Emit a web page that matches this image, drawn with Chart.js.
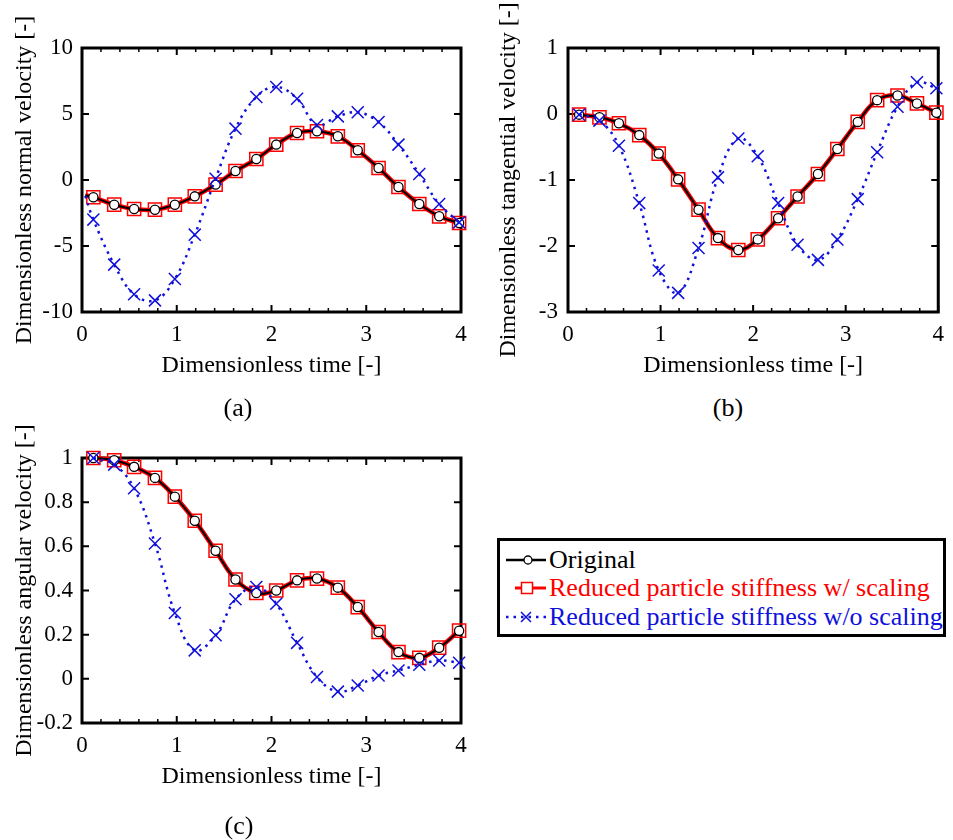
<!DOCTYPE html>
<html>
<head>
<meta charset="utf-8">
<script src="https://cdn.jsdelivr.net/npm/chart.js@4.4.0/dist/chart.umd.min.js"></script>
<style>
body { margin: 0; background: #fff; }
#fig { position: relative; width: 953px; height: 840px; background: #fff; overflow: hidden;
       font-family: "Liberation Serif", serif; color: #000; }
#fig canvas { position: absolute; }
.tag { position: absolute; font-size: 26px; transform: translate(-50%, -50%); white-space: nowrap; }
#legend { position: absolute; left: 497px; top: 538px; width: 443px; height: 93px; border: 3px solid #000; background: #fff; }
#legend .row { position: absolute; left: 0; height: 28px; display: flex; align-items: center; font-size: 26px; white-space: nowrap; }
#legend svg { margin-left: 6px; margin-right: 3px; }
</style>
</head>
<body>
<div id="fig">
  <canvas id="chartA" width="480" height="390" style="left:0;top:0"></canvas>
  <canvas id="chartB" width="473" height="390" style="left:480px;top:0"></canvas>
  <canvas id="chartC" width="480" height="420" style="left:0;top:420px"></canvas>
  <div class="tag" style="left:238px;top:408px">(a)</div>
  <div class="tag" style="left:728px;top:408px">(b)</div>
  <div class="tag" style="left:239px;top:826px">(c)</div>
  <div id="legend"></div>
</div>
<script>
// sample times of the markers (same for every panel)
const xTime = [0.12, 0.34, 0.55, 0.77, 0.98, 1.19, 1.41, 1.62, 1.84, 2.05, 2.27, 2.48, 2.70, 2.91, 3.13, 3.34, 3.56, 3.77, 3.98];
// panel (a) curves start a bit before the first marker
const xTimeA = [0.035].concat(xTime);

// (a) dimensionless normal velocity
const normOriginal = [-1.15, -1.31, -1.87, -2.20, -2.25, -1.87, -1.24, -0.35, 0.68, 1.59, 2.68, 3.56, 3.69, 3.31, 2.25, 0.91, -0.53, -1.82, -2.75, -3.26];
const normScaled   = [-1.15, -1.31, -1.87, -2.20, -2.25, -1.87, -1.24, -0.35, 0.68, 1.59, 2.68, 3.56, 3.69, 3.31, 2.25, 0.91, -0.53, -1.82, -2.75, -3.26];
const normUnscaled = [-1.2, -3.0, -6.41, -8.66, -9.12, -7.5, -4.14, 0.1, 3.89, 6.29, 7.05, 6.16, 4.17, 4.82, 5.13, 4.39, 2.68, 0.45, -1.82, -3.21];

// (b) dimensionless tangential velocity
const tangOriginal = [-0.01, -0.05, -0.14, -0.32, -0.60, -0.99, -1.45, -1.88, -2.06, -1.90, -1.58, -1.25, -0.91, -0.53, -0.12, 0.21, 0.28, 0.16, 0.02];
const tangScaled   = [-0.01, -0.05, -0.14, -0.32, -0.60, -0.99, -1.45, -1.88, -2.06, -1.90, -1.58, -1.25, -0.91, -0.53, -0.12, 0.21, 0.28, 0.16, 0.02];
const tangUnscaled = [-0.01, -0.10, -0.48, -1.35, -2.37, -2.71, -2.03, -0.96, -0.37, -0.64, -1.35, -1.98, -2.21, -1.90, -1.29, -0.58, 0.11, 0.48, 0.39];

// (c) dimensionless angular velocity
const angOriginal = [1.0, 0.99, 0.96, 0.91, 0.825, 0.716, 0.58, 0.45, 0.389, 0.40, 0.446, 0.454, 0.413, 0.325, 0.212, 0.121, 0.095, 0.141, 0.218];
const angScaled   = [1.0, 0.99, 0.96, 0.91, 0.825, 0.716, 0.58, 0.45, 0.389, 0.40, 0.446, 0.454, 0.413, 0.325, 0.212, 0.121, 0.095, 0.141, 0.218];
const angUnscaled = [1.0, 0.97, 0.863, 0.613, 0.298, 0.129, 0.197, 0.36, 0.416, 0.34, 0.163, 0.008, -0.058, -0.03, 0.015, 0.038, 0.064, 0.083, 0.073];

const seriesNames = ['Original', 'Reduced particle stiffness w/ scaling', 'Reduced particle stiffness w/o scaling'];
const xTitle = 'Dimensionless time [-]';

const BLACK = '#000000';
const RED = '#ff0000';
const BLUE = '#1010dc';

Chart.defaults.font.family = '"Liberation Serif", serif';
Chart.defaults.color = '#000';

// frame + inward ticks like the original plot
const frameTicks = {
    id: 'frameTicks',
    beforeDatasetsDraw(chart) {
        const {ctx, chartArea: a, scales: {x, y}} = chart;
        ctx.save();
        ctx.strokeStyle = '#000';
        // minor x ticks every 0.2
        ctx.lineWidth = 1.5;
        ctx.beginPath();
        for (let i = 0; i <= 20; i++) {
            if (i % 5 === 0) continue;
            const px = x.getPixelForValue(i * 0.2);
            ctx.moveTo(px, a.bottom); ctx.lineTo(px, a.bottom - 4);
            ctx.moveTo(px, a.top); ctx.lineTo(px, a.top + 4);
        }
        ctx.stroke();
        // major ticks
        ctx.lineWidth = 2;
        ctx.beginPath();
        x.ticks.forEach(t => {
            const px = x.getPixelForValue(t.value);
            ctx.moveTo(px, a.bottom); ctx.lineTo(px, a.bottom - 7);
            ctx.moveTo(px, a.top); ctx.lineTo(px, a.top + 7);
        });
        y.ticks.forEach(t => {
            const py = y.getPixelForValue(t.value);
            ctx.moveTo(a.left, py); ctx.lineTo(a.left + 7, py);
            ctx.moveTo(a.right, py); ctx.lineTo(a.right - 7, py);
        });
        ctx.stroke();
        ctx.lineWidth = 3;
        ctx.strokeRect(a.left, a.top, a.right - a.left, a.bottom - a.top);
        ctx.restore();
    }
};

function pts(xs, ys) {
    return ys.map((v, i) => ({x: xs[i], y: v}));
}

// plain tick text: 1, 0.8, 0, -0.2 ...
function tickText(v) {
    const r = Math.round(v * 10) / 10;
    return String(r === 0 ? 0 : r);
}

function makeChart(id, xs, orig, scaled, unscaled, yRange, yTitle, lay) {
    const radius = (r) => xs.map((v, i) => (xs === xTimeA && i === 0) ? 0 : r);
    return new Chart(document.getElementById(id), {
        type: 'line',
        data: {
            datasets: [{
                label: seriesNames[2],
                data: pts(xs, unscaled),
                borderColor: BLUE,
                borderWidth: 2.5,
                borderDash: [2.5, 5],
                tension: 0.4,
                pointStyle: 'crossRot',
                pointRadius: radius(8.5),
                pointBorderColor: BLUE,
                pointBorderWidth: 1.5,
                clip: false
            }, {
                label: seriesNames[0],
                data: pts(xs, orig),
                borderColor: BLACK,
                borderWidth: 2,
                tension: 0.4,
                pointStyle: 'circle',
                pointRadius: radius(4.6),
                pointBackgroundColor: '#fff',
                pointBorderColor: BLACK,
                pointBorderWidth: 1.3,
                clip: false
            }, {
                label: seriesNames[1],
                data: pts(xs, scaled),
                borderColor: RED,
                borderWidth: 4.5,
                tension: 0.4,
                pointStyle: 'rect',
                pointRadius: radius(9.3),
                pointBackgroundColor: 'rgba(0,0,0,0)',
                pointBorderColor: RED,
                pointBorderWidth: 1.5,
                clip: false
            }]
        },
        options: {
            responsive: false,
            animation: false,
            layout: {padding: {top: lay.top, right: lay.w - lay.right, bottom: 0, left: 0}},
            plugins: {legend: {display: false}, tooltip: {enabled: false}},
            scales: {
                x: {
                    type: 'linear', min: 0, max: 4,
                    ticks: {stepSize: 1, padding: 9, font: {size: 23}, callback: tickText},
                    grid: {display: false, drawTicks: false},
                    border: {display: false},
                    title: {display: true, text: xTitle, font: {size: 24}, padding: {top: 0, bottom: lay.xTitlePad}},
                    afterFit: s => { s.height = lay.h - lay.bottom; }
                },
                y: {
                    type: 'linear', min: yRange[0], max: yRange[1],
                    ticks: {stepSize: yRange[2], padding: lay.yTickPad, font: {size: 23}, callback: tickText},
                    grid: {display: false, drawTicks: false},
                    border: {display: false},
                    title: {display: true, text: yTitle, font: {size: 24}, padding: {top: lay.yTitlePad, bottom: 0}},
                    afterFit: s => { s.width = lay.left; }
                }
            }
        },
        plugins: [frameTicks]
    });
}

makeChart('chartA', xTimeA, normOriginal, normScaled, normUnscaled, [-10, 10, 5],
    'Dimensionless normal velocity [-]',
    {w: 480, h: 390, left: 82, top: 48, right: 461, bottom: 312, xTitlePad: 9.6, yTitlePad: 10.6, yTickPad: 9});
makeChart('chartB', xTime, tangOriginal, tangScaled, tangUnscaled, [-3, 1, 1],
    'Dimensionless tangential velocity [-]',
    {w: 473, h: 390, left: 88, top: 48, right: 466, bottom: 312, xTitlePad: 9.6, yTitlePad: 14.6, yTickPad: 10});
makeChart('chartC', xTime, angOriginal, angScaled, angUnscaled, [-0.2, 1, 0.2],
    'Dimensionless angular velocity [-]',
    {w: 480, h: 420, left: 82, top: 38, right: 461, bottom: 303, xTitlePad: 48.9, yTitlePad: 10.6, yTickPad: 9});

// legend (symbols drawn as small svg, text as html)
const legendSymbols = [
    '<line x1="0" y1="10" x2="40" y2="10" stroke="' + BLACK + '" stroke-width="2.5"/>' +
    '<circle cx="22" cy="10" r="4" fill="#fff" stroke="' + BLACK + '" stroke-width="1.3"/>',
    '<line x1="9" y1="10" x2="40" y2="10" stroke="' + RED + '" stroke-width="3"/>' +
    '<rect x="15.5" y="4.5" width="11" height="11" fill="#fff" stroke="' + RED + '" stroke-width="1.5"/>',
    '<line x1="0" y1="10" x2="40" y2="10" stroke="' + BLUE + '" stroke-width="2.5" stroke-dasharray="2.5 5"/>' +
    '<path d="M15 5 L25 15 M25 5 L15 15" stroke="' + BLUE + '" stroke-width="1.5"/>'
];
const legendColors = [BLACK, RED, BLUE];
const legendRowY = [5, 33, 62];
const legend = document.getElementById('legend');
seriesNames.forEach((name, i) => {
    const row = document.createElement('div');
    row.className = 'row';
    row.style.top = legendRowY[i] + 'px';
    row.style.color = legendColors[i];
    row.innerHTML = '<svg width="40" height="20" viewBox="0 0 40 20">' + legendSymbols[i] + '</svg><span>' + name + '</span>';
    legend.appendChild(row);
});
</script>
</body>
</html>
